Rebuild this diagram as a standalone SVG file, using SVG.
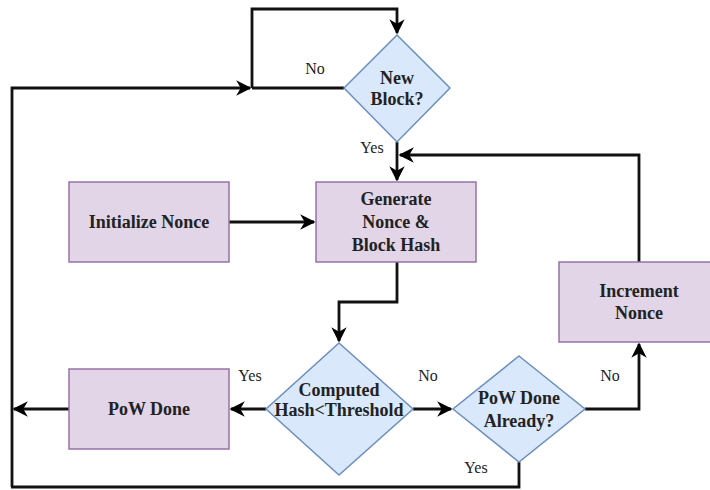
<svg xmlns="http://www.w3.org/2000/svg" width="710" height="490" viewBox="0 0 710 490">
<defs>
<marker id="arr" viewBox="0 0 10 10" refX="9" refY="5" markerWidth="5.5" markerHeight="5.5" orient="auto" markerUnits="strokeWidth">
<path d="M0,0 L10,5 L0,10 L3,5 Z" fill="#000"/>
</marker>
<style>
.box{fill:#e1d5e7;stroke:#9673a6;stroke-width:1.5}
.dia{fill:#dae8fc;stroke:#6c8ebf;stroke-width:1.5}
.t{font-family:'Liberation Serif',serif;font-weight:bold;font-size:18px;fill:#222;text-anchor:middle;dominant-baseline:central}
.lb{font-family:'Liberation Serif',serif;font-size:16px;fill:#222;text-anchor:middle;dominant-baseline:central}
.e{fill:none;stroke:#111;stroke-width:2.8}
</style>
</defs>
<rect width="710" height="490" fill="#fff"/>
<g id="connectors">
<path class="e" d="M252,88 L252,9 L397,9 L397,33" marker-end="url(#arr)"/>
<path class="e" d="M344,88 L252,88"/>
<path class="e" d="M12,487 L12,88 L250,88" marker-end="url(#arr)"/>
<path class="e" d="M397,142 L397,180" marker-end="url(#arr)"/>
<path class="e" d="M639,262 L639,155 L400,155" marker-end="url(#arr)"/>
<path class="e" d="M229,222 L314,222" marker-end="url(#arr)"/>
<path class="e" d="M397,262 L397,302 L339,302 L339,341" marker-end="url(#arr)"/>
<path class="e" d="M266,409 L231,409" marker-end="url(#arr)"/>
<path class="e" d="M69,409 L14,409" marker-end="url(#arr)"/>
<path class="e" d="M413,409 L451,409" marker-end="url(#arr)"/>
<path class="e" d="M585,409 L639,409 L639,344" marker-end="url(#arr)"/>
<path class="e" d="M519,462 L519,487 L11,487"/>
</g>
<g id="labels">
<text class="lb" x="315" y="68">No</text>
<text class="lb" x="372" y="147">Yes</text>
<text class="lb" x="250" y="375">Yes</text>
<text class="lb" x="428" y="375">No</text>
<text class="lb" x="610" y="375">No</text>
<text class="lb" x="476" y="467">Yes</text>
</g>
<g id="new-block">
<polygon class="dia" points="397,35 450,88 397,142 344,88"/>
<text class="t" x="397" y="78">New</text>
<text class="t" x="397" y="99">Block?</text>
</g>
<g id="initialize-nonce">
<rect class="box" x="69" y="182" width="160" height="80"/>
<text class="t" x="149" y="222">Initialize Nonce</text>
</g>
<g id="generate-nonce">
<rect class="box" x="316" y="182" width="160" height="80"/>
<text class="t" x="396" y="199">Generate</text>
<text class="t" x="396" y="222">Nonce &amp;</text>
<text class="t" x="396" y="245">Block Hash</text>
</g>
<g id="increment-nonce">
<rect class="box" x="559" y="262" width="160" height="80"/>
<text class="t" x="639" y="291">Increment</text>
<text class="t" x="639" y="313">Nonce</text>
</g>
<g id="computed-hash">
<polygon class="dia" points="339,343 413,409 339,475 266,409"/>
<text class="t" x="339" y="390">Computed</text>
<text class="t" x="339" y="410">Hash&lt;Threshold</text>
</g>
<g id="pow-done">
<rect class="box" x="69" y="369" width="160" height="80"/>
<text class="t" x="149" y="409">PoW Done</text>
</g>
<g id="pow-done-already">
<polygon class="dia" points="519,356 585,409 519,462 453,409"/>
<text class="t" x="519" y="398">PoW Done</text>
<text class="t" x="519" y="421">Already?</text>
</g>
</svg>
